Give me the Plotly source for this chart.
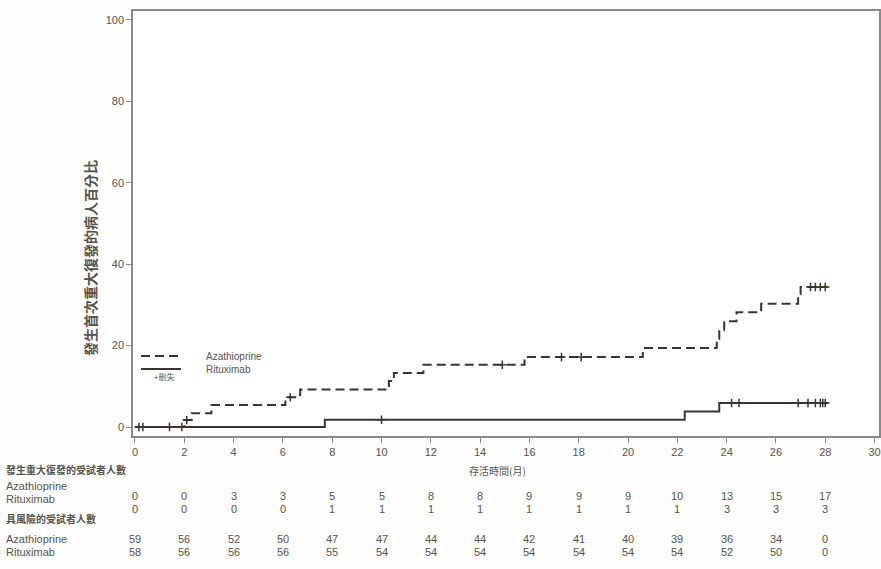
import plotly.graph_objects as go

W, H = 881, 569

# Kaplan-Meier step curves (time in months, cumulative % with first major relapse)
aza_t = [0, 2.0, 2.3, 3.1, 6.1, 6.7, 10.3, 10.5, 11.7, 15.8, 20.6, 23.6, 23.7, 23.9, 24.4, 25.4, 26.9, 27.0, 28.1]
aza_y = [0, 1.7, 3.4, 5.4, 7.3, 9.2, 11.3, 13.3, 15.3, 17.2, 19.4, 21.6, 23.8, 26.0, 28.2, 30.3, 32.6, 34.4, 34.4]
rit_t = [0, 7.7, 22.3, 23.7, 28.1]
rit_y = [0, 1.8, 3.8, 5.9, 5.9]

# Censored observations
aza_cens_t = [0.16, 1.4, 2.1, 6.3, 14.9, 17.3, 18.1, 27.4, 27.6, 27.8, 28.0]
aza_cens_y = [0, 0, 1.7, 7.3, 15.3, 17.2, 17.2, 34.4, 34.4, 34.4, 34.4]
rit_cens_t = [0.32, 1.9, 10.0, 24.2, 24.5, 26.9, 27.3, 27.6, 27.8, 27.9, 28.0]
rit_cens_y = [0, 0, 1.8, 5.9, 5.9, 5.9, 5.9, 5.9, 5.9, 5.9, 5.9]

# Risk table
table_months = [0, 2, 4, 6, 8, 10, 12, 14, 16, 18, 20, 22, 24, 26, 28]
aza_events = [0, 0, 3, 3, 5, 5, 8, 8, 9, 9, 9, 10, 13, 15, 17]
rit_events = [0, 0, 0, 0, 1, 1, 1, 1, 1, 1, 1, 1, 3, 3, 3]
aza_risk = [59, 56, 52, 50, 47, 47, 44, 44, 42, 41, 40, 39, 36, 34, 0]
rit_risk = [58, 56, 56, 56, 55, 54, 54, 54, 54, 54, 54, 54, 52, 50, 0]

x_ticks = list(range(0, 31, 2))
y_ticks = list(range(0, 101, 20))

LINE = "#3b342d"
TEXT = "#55554f"
CJK = "Noto Sans CJK TC"
LAT = "Liberation Sans"
PAD = "\u2003\u2003"  # gap between legend sample and label


def py(px):
    return 1 - px / H


fig = go.Figure()
fig.add_trace(go.Scatter(x=aza_t, y=aza_y, mode="lines", line_shape="hv", name=PAD + "Azathioprine",
                         legend="legend",
                         line=dict(color=LINE, width=2, dash="9px,5px")))
fig.add_trace(go.Scatter(x=rit_t, y=rit_y, mode="lines", line_shape="hv", name=PAD + "Rituximab",
                         legend="legend2",
                         line=dict(color=LINE, width=2)))
fig.add_trace(go.Scatter(x=aza_cens_t, y=aza_cens_y, mode="markers", showlegend=False,
                         marker=dict(symbol="cross-thin", size=6, line=dict(color=LINE, width=1.5))))
fig.add_trace(go.Scatter(x=rit_cens_t, y=rit_cens_y, mode="markers", showlegend=False,
                         marker=dict(symbol="cross-thin", size=6, line=dict(color=LINE, width=1.5))))

ann = []
# y-axis title
ann.append(dict(text="<b>發生首次重大復發的病人百分比</b>", x=90 / W, y=py(258), xref="paper", yref="paper",
                xanchor="center", yanchor="middle",
                textangle=-90, showarrow=False, font=dict(family=CJK, size=14, color=TEXT)))
# x-axis title
ann.append(dict(text="存活時間(月)", x=497 / W, y=py(480), xref="paper", yref="paper",
                showarrow=False, font=dict(family=CJK, size=10, color=TEXT)))
# censor legend note
ann.append(dict(text="+刪失", x=152 / W, y=py(384), xref="paper", yref="paper", xanchor="left",
                showarrow=False, font=dict(family=CJK, size=8, color=TEXT)))

# risk table headers and row labels
ann.append(dict(text="<b>發生重大復發的受試者人數</b>", x=4 / W, y=py(479), xref="paper", yref="paper",
                xanchor="left", showarrow=False, font=dict(family=CJK, size=10, color=TEXT)))
ann.append(dict(text="<b>具風險的受試者人數</b>", x=4 / W, y=py(528), xref="paper", yref="paper",
                xanchor="left", showarrow=False, font=dict(family=CJK, size=10, color=TEXT)))
for lab, ypx in [("Azathioprine", 494), ("Rituximab", 507), ("Azathioprine", 547), ("Rituximab", 560)]:
    ann.append(dict(text=lab, x=4 / W, y=py(ypx), xref="paper", yref="paper", xanchor="left",
                    showarrow=False, font=dict(family=LAT, size=11, color=TEXT)))

for row, ypx in [(aza_events, 504), (rit_events, 517), (aza_risk, 547), (rit_risk, 560)]:
    for m, v in zip(table_months, row):
        ann.append(dict(text=str(v), x=m, y=py(ypx), xref="x", yref="paper", showarrow=False,
                        font=dict(family=LAT, size=11, color=TEXT)))

legend_style = dict(xanchor="left", yanchor="middle", bgcolor="rgba(0,0,0,0)",
                    font=dict(family=LAT, size=10, color=TEXT), itemwidth=40)

fig.update_layout(
    width=W, height=H,
    margin=dict(l=0, r=0, t=0, b=0),
    paper_bgcolor="#fdfdfb", plot_bgcolor="#ffffff",
    showlegend=True,
    legend=dict(x=136 / W, y=py(356), **legend_style),
    legend2=dict(x=136 / W, y=py(369), **legend_style),
    annotations=ann,
    xaxis=dict(domain=[133 / W, 879 / W], range=[-0.08, 30.18], tickvals=x_ticks,
               ticks="outside", ticklen=5, tickcolor="#888", showline=True, mirror=True,
               linecolor="#8a8a86", linewidth=1.5, showgrid=False, zeroline=False,
               tickfont=dict(family=LAT, size=11, color=TEXT), automargin=False),
    yaxis=dict(domain=[py(436), py(11)], range=[-2.2, 102.2], tickvals=y_ticks,
               ticks="outside", ticklen=5, tickcolor="#888", showline=True, mirror=True,
               linecolor="#8a8a86", linewidth=1.5, showgrid=False, zeroline=False,
               tickfont=dict(family=LAT, size=11, color=TEXT), automargin=False),
)

fig.write_html("out.html")
